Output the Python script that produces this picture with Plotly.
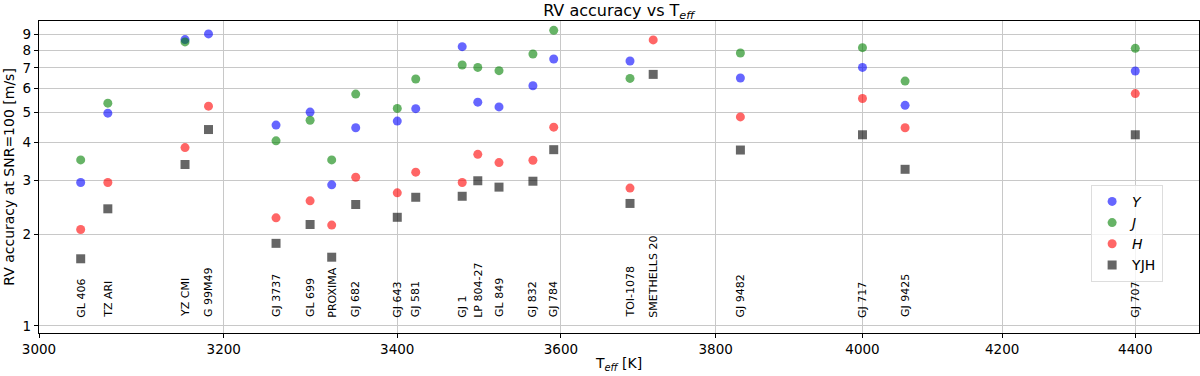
import math
import plotly.graph_objects as go

stars = ["GL 406", "TZ ARI", "YZ CMI", "G 99M49", "GJ 3737", "GL 699", "PROXIMA",
         "GJ 682", "GJ 643", "GJ 581", "GJ 1", "LP 804-27", "GL 849", "GJ 832",
         "GJ 784", "TOI-1078", "SMETHELLS 20", "GJ 9482", "GJ 717", "GJ 9425", "GJ 707"]
teff = [3044, 3073, 3157, 3183, 3259, 3298, 3323, 3351, 3400, 3422, 3478, 3497,
        3523, 3565, 3591, 3688, 3718, 3833, 4000, 4060, 4400]
rv_y = [2.95, 4.98, 8.67, 9.05, 4.55, 5.02, 2.90, 4.46, 4.69, 5.15, 8.22, 5.41,
        5.22, 6.12, 7.49, 7.38, None, 6.49, 7.03, 5.28, 6.84]
rv_j = [3.50, 5.37, 8.52, None, 4.04, 4.72, 3.50, 5.75, 5.16, 6.44, 7.16, 7.03,
        6.86, 7.78, 9.30, 6.47, None, 7.84, 8.16, 6.34, 8.12]
rv_h = [2.07, 2.95, 3.84, 5.25, 2.26, 2.57, 2.14, 3.07, 2.73, 3.19, 2.95, 3.65,
        3.43, 3.49, 4.48, 2.83, 8.65, 4.84, 5.56, 4.46, 5.77]
rv_yjh = [1.66, 2.42, 3.38, 4.40, 1.865, 2.15, 1.68, 2.50, 2.27, 2.64, 2.66, 2.99,
          2.85, 2.98, 3.78, 2.52, 6.67, 3.77, 4.23, 3.26, 4.23]

xticks = [3000, 3200, 3400, 3600, 3800, 4000, 4200, 4400]
yticks = [1, 2, 3, 4, 5, 6, 7, 8, 9]
label_y = 1.05  # star names sit just above 1 m/s

font = "DejaVu Sans"
fig = go.Figure()

series = [
    ("<i>Y</i>", rv_y, "blue", "circle"),
    ("<i>J</i>", rv_j, "green", "circle"),
    ("<i>H</i>", rv_h, "red", "circle"),
    ("YJH", rv_yjh, "black", "square"),
]
for name, vals, col, sym in series:
    fig.add_trace(go.Scatter(
        x=teff, y=vals, mode="markers", name=name,
        marker=dict(color=col, symbol=sym, size=9, opacity=0.6, line_width=0),
    ))

# annotations on log axes take log10 coordinates
for s, t in zip(stars, teff):
    fig.add_annotation(
        x=math.log10(t), y=math.log10(label_y), xref="x", yref="y", text=s,
        textangle=-90, showarrow=False, xanchor="center", yanchor="bottom",
        font=dict(size=11, color="black", family=font),
    )

fig.update_layout(
    width=1200, height=376,
    margin=dict(l=39, r=1, t=21, b=43),
    paper_bgcolor="white", plot_bgcolor="white",
    font=dict(family=font, color="black"),
    title=dict(text="RV accuracy vs T<sub><i>eff</i></sub>", x=0.5156, xanchor="center",
               y=0.988, yanchor="top", pad=dict(t=0, b=0), font=dict(size=16)),
    legend=dict(x=0.907, y=0.475, xanchor="left", yanchor="top",
                bgcolor="rgba(255,255,255,0.8)", bordercolor="#dddddd", borderwidth=1,
                font=dict(size=14), itemwidth=30),
    showlegend=True,
)

fig.update_xaxes(
    type="log", range=[3.47712, 3.65312], tickvals=xticks, ticktext=[str(v) for v in xticks],
    showgrid=True, gridcolor="#c8c8c8", gridwidth=1,
    showline=True, linecolor="black", linewidth=1.2, mirror=True,
    ticks="outside", ticklen=4, tickcolor="black", tickfont=dict(size=13.5),
    title=dict(text="T<sub><i>eff</i></sub> [K]", font=dict(size=14), standoff=1),
    automargin=False, zeroline=False,
)
fig.update_yaxes(
    type="log", range=[-0.023, 0.999], tickvals=yticks, ticktext=[str(v) for v in yticks],
    showgrid=True, gridcolor="#c8c8c8", gridwidth=1,
    showline=True, linecolor="black", linewidth=1.2, mirror=True,
    ticks="outside", ticklen=4, tickcolor="black", tickfont=dict(size=13.5),
    title=dict(text="RV accuracy at SNR=100 [m/s]", font=dict(size=14), standoff=4),
    automargin=False, zeroline=False,
)

# drop the browser's default 8px body margin so the figure sits at the page corner
fig.write_html("out.html", config={"displayModeBar": False},
               post_script="document.body.style.margin='0px';")
